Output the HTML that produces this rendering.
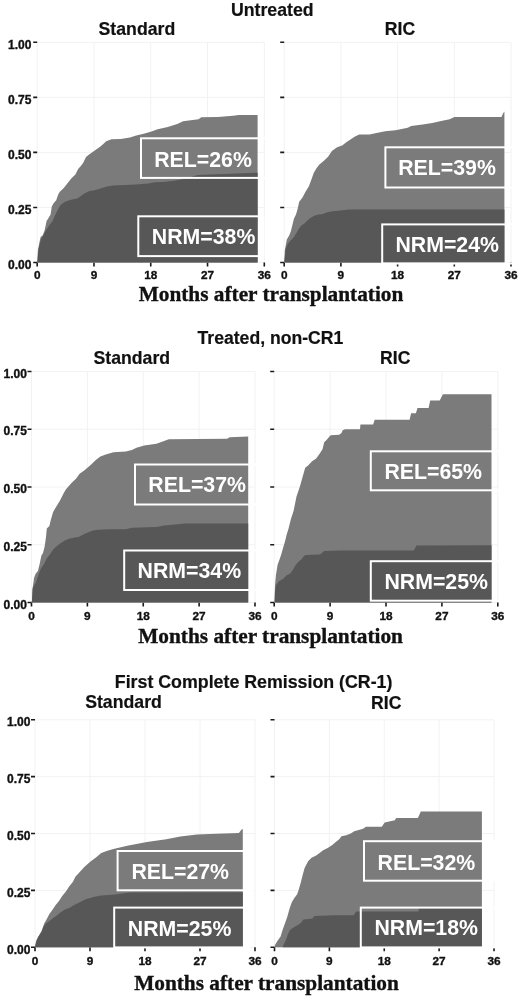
<!DOCTYPE html><html><head><meta charset="utf-8"><style>html,body{margin:0;padding:0;background:#fff;}svg{display:block;}svg{will-change:transform;}text{font-family:"Liberation Sans",sans-serif;font-weight:bold;}.s{font-family:"Liberation Serif",serif;}.k{stroke:#111;stroke-width:0.35px;}.t{stroke:#111;stroke-width:0.2px;}</style></head><body>
<svg width="520" height="1001" viewBox="0 0 520 1001">
<rect width="520" height="1001" fill="#fff"/>
<path d="M37.2 42.3V262.5M93.98 42.3V262.5M150.75 42.3V262.5M207.53 42.3V262.5M264.3 42.3V262.5M37.2 262.5H264.3M37.2 207.45H264.3M37.2 152.4H264.3M37.2 97.35H264.3M37.2 42.3H264.3" stroke="#f2f2f2" stroke-width="1" fill="none"/>
<path d="M37.2 262.5v4M93.98 262.5v4M150.75 262.5v4M207.53 262.5v4M264.3 262.5v4M37.2 262.5h-4M37.2 207.45h-4M37.2 152.4h-4M37.2 97.35h-4M37.2 42.3h-4" stroke="#1a1a1a" stroke-width="1.6" fill="none"/>
<polygon points="37.3,262.5 37.3,262.5 37.4,261 37.8,251.4 39.4,242.6 40.6,237 42.6,235.4 44.6,230.6 46.6,221 48.2,218.6 50.6,214.6 51.8,206.6 53.4,203.4 56.2,200.2 58.2,194.6 59.8,191.8 63.8,187.9 67.7,183.1 71.5,178.3 75.4,174.4 78.3,168.7 80.2,166.7 83.1,162.9 86,157.1 88.8,154.7 93.7,151.3 100.4,146.5 103.3,144.1 106.2,141.25 111.5,139.2 120.8,138.9 130,137.4 136.2,135.4 143.8,133.8 151.5,131.5 157.7,129.2 167.7,126.9 177.3,124 183.1,121.2 198.5,119.2 201.3,117.3 217.7,116.9 233.1,115.8 238.8,115 257.6,115 257.6,115 257.6,262.5" fill="#7b7b7b"/>
<polygon points="37.3,262.5 37.3,262.5 37.4,261 38.6,248.2 41,239.4 43.8,234.6 46.2,229.8 49,225.8 52.6,221 54.2,217 56.2,213 58.2,209 60.6,205 63.8,202.6 67,201 71,199.8 77.3,198.5 84,193.7 88.8,191.25 94.6,190.3 100.4,188.4 107.1,186.4 113.1,185.4 136.2,184.6 148.5,183.5 154.6,182.3 163,182 174.6,180.8 186,178.5 197.7,175 257.6,172.7 257.6,172.7 257.6,262.5" fill="#575757"/>
<rect x="141" y="138.3" width="125" height="39.6" fill="none" stroke="#fff" stroke-width="2"/>
<text x="154.2" y="166.6" font-size="21.3" fill="#fff">REL=26%</text>
<rect x="138.3" y="216.3" width="125" height="39.8" fill="none" stroke="#fff" stroke-width="2"/>
<text x="151.8" y="244" font-size="21.3" fill="#fff">NRM=38%</text>
<text x="37.2" y="279.3" font-size="11.8" text-anchor="middle" fill="#111" class="k">0</text>
<text x="93.98" y="279.3" font-size="11.8" text-anchor="middle" fill="#111" class="k">9</text>
<text x="150.75" y="279.3" font-size="11.8" text-anchor="middle" fill="#111" class="k">18</text>
<text x="207.53" y="279.3" font-size="11.8" text-anchor="middle" fill="#111" class="k">27</text>
<text x="264.3" y="279.3" font-size="11.8" text-anchor="middle" fill="#111" class="k">36</text>
<text x="31.4" y="268.7" font-size="12" text-anchor="end" fill="#111" class="k">0.00</text>
<text x="31.4" y="213.65" font-size="12" text-anchor="end" fill="#111" class="k">0.25</text>
<text x="31.4" y="158.6" font-size="12" text-anchor="end" fill="#111" class="k">0.50</text>
<text x="31.4" y="103.55" font-size="12" text-anchor="end" fill="#111" class="k">0.75</text>
<text x="31.4" y="48.5" font-size="12" text-anchor="end" fill="#111" class="k">1.00</text>
<path d="M284.2 42.3V262.5M340.9 42.3V262.5M397.6 42.3V262.5M454.3 42.3V262.5M511 42.3V262.5M284.2 262.5H511M284.2 207.45H511M284.2 152.4H511M284.2 97.35H511M284.2 42.3H511" stroke="#f2f2f2" stroke-width="1" fill="none"/>
<path d="M284.2 262.5v4M340.9 262.5v4M397.6 262.5v4M454.3 262.5v4M511 262.5v4M284.2 262.5h-4M284.2 207.45h-4M284.2 152.4h-4M284.2 97.35h-4M284.2 42.3h-4" stroke="#1a1a1a" stroke-width="1.6" fill="none"/>
<polygon points="284.3,262.5 284.3,262.5 284.4,260.2 284.8,250.6 286.8,239.4 289.2,235.4 290.8,231.4 292.4,225 294,218.6 296,214.6 297.6,209 299.2,201.8 300.8,199.8 302.8,197 305.2,192.2 308.8,186.5 311.7,178.8 313.7,173.1 316.5,168.3 319.4,164.4 324.2,160.6 328.1,156.7 331.9,151 336.7,147.6 342.5,145.2 346.3,142.3 351.2,138.9 355,136.5 359.2,134.6 369.6,134.6 376.5,132.9 385.2,131.2 395.6,130.3 407.7,127.7 411.2,126 422.7,124.6 432.3,123.1 440,121.2 449.6,119.2 454.4,116.9 501.5,116.9 503,113.5 504.4,111.5 504.4,111.5 504.4,262.5" fill="#7b7b7b"/>
<polygon points="284.3,262.5 284.3,262.5 284.4,260.2 285.6,249 287.6,244.2 290.8,240.2 294,237 296.4,233 299.2,228.2 301.2,225.8 304.4,223.4 307.6,220.2 310.8,217.8 314.8,215.4 318.8,214.6 322,214.2 327.5,212.25 331,211.4 349.2,209.6 504.4,209.6 504.4,209.6 504.4,262.5" fill="#575757"/>
<rect x="385.4" y="147.3" width="130" height="40.2" fill="none" stroke="#fff" stroke-width="2"/>
<text x="398.2" y="175.4" font-size="21.3" fill="#fff">REL=39%</text>
<rect x="382.2" y="224.4" width="135" height="39.1" fill="none" stroke="#fff" stroke-width="2"/>
<text x="395.4" y="251.9" font-size="21.3" fill="#fff">NRM=24%</text>
<text x="284.2" y="279.3" font-size="11.8" text-anchor="middle" fill="#111" class="k">0</text>
<text x="340.9" y="279.3" font-size="11.8" text-anchor="middle" fill="#111" class="k">9</text>
<text x="397.6" y="279.3" font-size="11.8" text-anchor="middle" fill="#111" class="k">18</text>
<text x="454.3" y="279.3" font-size="11.8" text-anchor="middle" fill="#111" class="k">27</text>
<text x="511" y="279.3" font-size="11.8" text-anchor="middle" fill="#111" class="k">36</text>
<path d="M31.5 371.5V602.5M87.38 371.5V602.5M143.25 371.5V602.5M199.12 371.5V602.5M255 371.5V602.5M31.5 602.5H255M31.5 544.75H255M31.5 487H255M31.5 429.25H255M31.5 371.5H255" stroke="#f2f2f2" stroke-width="1" fill="none"/>
<path d="M31.5 602.5v4M87.38 602.5v4M143.25 602.5v4M199.12 602.5v4M255 602.5v4M31.5 602.5h-4M31.5 544.75h-4M31.5 487h-4M31.5 429.25h-4M31.5 371.5h-4" stroke="#1a1a1a" stroke-width="1.6" fill="none"/>
<polygon points="31.6,602.5 31.6,602.5 32,600.7 32.4,589.6 34.1,577.7 35.8,573.5 37.9,571 39.6,564.2 41.3,555.7 43,553.1 44.7,546.3 46,537 46.8,528.5 49.4,525.9 50.8,520 53.1,511.9 56.5,506.2 60,500.4 63.5,493.5 65.8,489.4 71.5,483.1 76.2,478.5 79.6,473.8 84.2,470.4 91.2,464.6 95.8,460 100.4,456.5 105.8,454.6 113.5,452.3 125.8,451.5 131.9,450 136.5,447.7 144.2,445.4 156.5,443.8 162.7,441.5 168.8,439.2 227.1,438.7 229.7,437.3 248.2,436.4 248.2,436.4 248.2,602.5" fill="#7b7b7b"/>
<polygon points="31.6,602.5 31.6,602.5 32,600.7 32.8,587.9 35.8,582.8 38.3,575.2 40.9,568.4 43.9,564.2 46.8,558.2 50.2,554 53.6,548.9 58.7,544.6 64.7,540.4 69,538.7 71.4,538.3 79.1,536.7 85.3,533.6 93,530.5 98,529.7 110.4,529.2 125.8,529.2 131.9,527.7 156.5,526.9 164.2,525.4 175,524.6 185,523.5 248.2,523.5 248.2,523.5 248.2,602.5" fill="#575757"/>
<rect x="135" y="464.5" width="125" height="40" fill="none" stroke="#fff" stroke-width="2"/>
<text x="148.3" y="492.3" font-size="21.3" fill="#fff">REL=37%</text>
<rect x="124.2" y="550.5" width="135" height="39.5" fill="none" stroke="#fff" stroke-width="2"/>
<text x="137.5" y="578.2" font-size="21.3" fill="#fff">NRM=34%</text>
<text x="31.5" y="620.4" font-size="11.8" text-anchor="middle" fill="#111" class="k">0</text>
<text x="87.38" y="620.4" font-size="11.8" text-anchor="middle" fill="#111" class="k">9</text>
<text x="143.25" y="620.4" font-size="11.8" text-anchor="middle" fill="#111" class="k">18</text>
<text x="199.12" y="620.4" font-size="11.8" text-anchor="middle" fill="#111" class="k">27</text>
<text x="255" y="620.4" font-size="11.8" text-anchor="middle" fill="#111" class="k">36</text>
<text x="26.9" y="608.7" font-size="12" text-anchor="end" fill="#111" class="k">0.00</text>
<text x="26.9" y="550.95" font-size="12" text-anchor="end" fill="#111" class="k">0.25</text>
<text x="26.9" y="493.2" font-size="12" text-anchor="end" fill="#111" class="k">0.50</text>
<text x="26.9" y="435.45" font-size="12" text-anchor="end" fill="#111" class="k">0.75</text>
<text x="26.9" y="377.7" font-size="12" text-anchor="end" fill="#111" class="k">1.00</text>
<path d="M274.2 371.5V602.5M330.1 371.5V602.5M386 371.5V602.5M441.9 371.5V602.5M497.8 371.5V602.5M274.2 602.5H497.8M274.2 544.75H497.8M274.2 487H497.8M274.2 429.25H497.8M274.2 371.5H497.8" stroke="#f2f2f2" stroke-width="1" fill="none"/>
<path d="M274.2 602.5v4M330.1 602.5v4M386 602.5v4M441.9 602.5v4M497.8 602.5v4M274.2 602.5h-4M274.2 544.75h-4M274.2 487h-4M274.2 429.25h-4M274.2 371.5h-4" stroke="#1a1a1a" stroke-width="1.6" fill="none"/>
<polygon points="274.4,602.5 274.4,602.5 274.6,601.2 275,585.6 275.9,575.2 277.6,564.8 279.8,558.8 281.5,553.6 283.2,547.5 285,541.5 286.7,534.5 288.5,528.8 290.8,519.6 293.7,510.4 296.5,496.5 300,486.2 302.3,478.1 305.2,467.7 308.1,465.4 312.1,461.3 316.2,458.5 319.6,453.8 322.5,449.2 324.2,442.3 326.5,440 330.6,435.2 339.2,434.8 341.5,433.1 342.7,430.2 345,429.2 360,429.2 360.4,424.4 373.1,424.4 374.7,419.7 409.6,419.7 411.1,413.3 415.9,413.3 417.5,407.9 428.6,407.9 430.2,400.6 439.7,400.6 442.9,394.3 491.5,394.3 491.5,394.3 491.5,602.5" fill="#7b7b7b"/>
<polygon points="274.4,602.5 274.4,602.5 274.6,601.2 275,590.8 276.3,584.7 278.9,581.3 283.2,578.7 286.7,575.2 290.2,573.5 292.8,570 295.8,564.8 298.8,561.4 301.4,559.6 303.2,557 305.3,554.9 320.1,554.6 324.2,551.1 340,550.5 413.8,550.4 416.5,545.5 491.5,545.3 491.5,545.3 491.5,602.5" fill="#575757"/>
<rect x="370.8" y="451.3" width="130" height="39" fill="none" stroke="#fff" stroke-width="2"/>
<text x="384.4" y="479" font-size="21.3" fill="#fff">REL=65%</text>
<rect x="370.8" y="561.2" width="130" height="39.5" fill="none" stroke="#fff" stroke-width="2"/>
<text x="384.4" y="588.9" font-size="21.3" fill="#fff">NRM=25%</text>
<text x="274.2" y="620.4" font-size="11.8" text-anchor="middle" fill="#111" class="k">0</text>
<text x="330.1" y="620.4" font-size="11.8" text-anchor="middle" fill="#111" class="k">9</text>
<text x="386" y="620.4" font-size="11.8" text-anchor="middle" fill="#111" class="k">18</text>
<text x="441.9" y="620.4" font-size="11.8" text-anchor="middle" fill="#111" class="k">27</text>
<text x="497.8" y="620.4" font-size="11.8" text-anchor="middle" fill="#111" class="k">36</text>
<path d="M35 719.8V947.3M90 719.8V947.3M145 719.8V947.3M200 719.8V947.3M255 719.8V947.3M35 947.3H255M35 890.42H255M35 833.55H255M35 776.67H255M35 719.8H255" stroke="#f2f2f2" stroke-width="1" fill="none"/>
<path d="M35 947.3v4M90 947.3v4M145 947.3v4M200 947.3v4M255 947.3v4M35 947.3h-4M35 890.42h-4M35 833.55h-4M35 776.67h-4M35 719.8h-4" stroke="#1a1a1a" stroke-width="1.6" fill="none"/>
<polygon points="35.1,947.3 35.1,947.3 35.2,946 36,941.6 37.8,937.3 39.5,934.7 41.7,930.4 44.2,923.5 46.8,919.1 49.4,913.9 52,910.5 55.5,905.3 59,901 62.4,895.8 65.9,891.4 69.3,886.2 72.8,881.9 75.4,876.7 78.2,873.8 84.3,866.9 90.5,861.5 96.6,856.9 101.2,853.1 107.4,850.8 113.4,849 127.3,845.7 146.8,842.1 166.3,839.3 180.3,836.5 197,834.5 216.5,833.7 238.9,832.9 241.6,829.5 242.8,829 242.8,829 242.8,947.3" fill="#7b7b7b"/>
<polygon points="35.1,947.3 35.1,947.3 35.2,946 36.5,940.8 39.1,935.6 41.7,932.1 43.4,926.9 46,923.5 49.4,920.9 52.9,918.3 56.4,915.7 60.7,912.2 65,909.6 69.3,907.9 73.7,905.3 78.2,903.1 85.8,899.2 93.5,896.9 101.2,895.4 115,894.5 130,892.5 242.8,892.3 242.8,892.3 242.8,947.3" fill="#575757"/>
<rect x="117.6" y="851" width="135" height="39.3" fill="none" stroke="#fff" stroke-width="2"/>
<text x="131.4" y="878.8" font-size="21.3" fill="#fff">REL=27%</text>
<rect x="114.2" y="907.6" width="135" height="39.8" fill="none" stroke="#fff" stroke-width="2"/>
<text x="127.8" y="935.6" font-size="21.3" fill="#fff">NRM=25%</text>
<text x="35" y="964.6" font-size="11.8" text-anchor="middle" fill="#111" class="k">0</text>
<text x="90" y="964.6" font-size="11.8" text-anchor="middle" fill="#111" class="k">9</text>
<text x="145" y="964.6" font-size="11.8" text-anchor="middle" fill="#111" class="k">18</text>
<text x="200" y="964.6" font-size="11.8" text-anchor="middle" fill="#111" class="k">27</text>
<text x="255" y="964.6" font-size="11.8" text-anchor="middle" fill="#111" class="k">36</text>
<text x="30.4" y="953.5" font-size="12" text-anchor="end" fill="#111" class="k">0.00</text>
<text x="30.4" y="896.62" font-size="12" text-anchor="end" fill="#111" class="k">0.25</text>
<text x="30.4" y="839.75" font-size="12" text-anchor="end" fill="#111" class="k">0.50</text>
<text x="30.4" y="782.88" font-size="12" text-anchor="end" fill="#111" class="k">0.75</text>
<text x="30.4" y="726" font-size="12" text-anchor="end" fill="#111" class="k">1.00</text>
<path d="M274.5 719.8V947.3M329.38 719.8V947.3M384.25 719.8V947.3M439.12 719.8V947.3M494 719.8V947.3M274.5 947.3H494M274.5 890.42H494M274.5 833.55H494M274.5 776.67H494M274.5 719.8H494" stroke="#f2f2f2" stroke-width="1" fill="none"/>
<path d="M274.5 947.3v4M329.38 947.3v4M384.25 947.3v4M439.12 947.3v4M494 947.3v4M274.5 947.3h-4M274.5 890.42h-4M274.5 833.55h-4M274.5 776.67h-4M274.5 719.8h-4" stroke="#1a1a1a" stroke-width="1.6" fill="none"/>
<polygon points="274.6,947.3 274.6,947.3 274.7,945.4 277.4,940.9 280.6,936.4 282.8,929.2 285.1,923 287.3,916.7 289.6,908.6 291.8,902.3 294.5,897.8 297.2,894.2 299,888.8 300.8,882.5 302.6,875.3 304.6,868.1 308.1,861.2 311.5,857.7 316.2,855.4 319.6,853.1 323.1,850.2 327.7,847.9 332.3,845 335.8,842.1 339.2,839.2 341.5,836.3 346.2,835.2 350.8,833.5 354.2,831.2 363.1,828.8 366,826.8 381.8,826.8 384.7,822.5 394.8,820.2 396.2,817.9 417.9,817.9 420.8,811.5 481.9,811.5 481.9,811.5 481.9,947.3" fill="#7b7b7b"/>
<polygon points="282.8,947.3 282.8,947.3 282.8,946.3 285.5,940.9 287.8,934.6 290,930.1 293.6,927.4 297.2,925.6 300.8,923 303.5,919.4 312.5,918.5 314.3,916 335,915.2 353.8,915.2 356,911.5 418.5,911.5 419,907.8 481.9,907.8 481.9,907.8 481.9,947.3" fill="#575757"/>
<rect x="364" y="841.2" width="130" height="39.5" fill="none" stroke="#fff" stroke-width="2"/>
<text x="377.6" y="869.5" font-size="21.3" fill="#fff">REL=32%</text>
<rect x="360.8" y="907.6" width="135" height="39.8" fill="none" stroke="#fff" stroke-width="2"/>
<text x="374.4" y="935.2" font-size="21.3" fill="#fff">NRM=18%</text>
<text x="274.5" y="964.6" font-size="11.8" text-anchor="middle" fill="#111" class="k">0</text>
<text x="329.38" y="964.6" font-size="11.8" text-anchor="middle" fill="#111" class="k">9</text>
<text x="384.25" y="964.6" font-size="11.8" text-anchor="middle" fill="#111" class="k">18</text>
<text x="439.12" y="964.6" font-size="11.8" text-anchor="middle" fill="#111" class="k">27</text>
<text x="494" y="964.6" font-size="11.8" text-anchor="middle" fill="#111" class="k">36</text>
<text class="t" x="272.3" y="15.6" font-size="17.7" text-anchor="middle" fill="#111">Untreated</text>
<text class="t" x="136.9" y="35.3" font-size="17.7" text-anchor="middle" fill="#111">Standard</text>
<text class="t" x="400" y="34.8" font-size="17.6" text-anchor="middle" fill="#111">RIC</text>
<text class="t" x="270.4" y="344.1" font-size="17.6" text-anchor="middle" fill="#111">Treated, non-CR1</text>
<text class="t" x="131.8" y="363.8" font-size="17.7" text-anchor="middle" fill="#111">Standard</text>
<text class="t" x="395.2" y="363.6" font-size="17.6" text-anchor="middle" fill="#111">RIC</text>
<text class="t" x="253.6" y="687.9" font-size="17.8" text-anchor="middle" fill="#111">First Complete Remission (CR-1)</text>
<text class="t" x="123.5" y="708.4" font-size="17.7" text-anchor="middle" fill="#111">Standard</text>
<text class="t" x="386.2" y="708.5" font-size="17.6" text-anchor="middle" fill="#111">RIC</text>
<text class="s k" x="271" y="300.5" font-size="21.3" text-anchor="middle" fill="#111">Months after transplantation</text>
<text class="s k" x="270.6" y="643.2" font-size="21.3" text-anchor="middle" fill="#111">Months after transplantation</text>
<text class="s k" x="266.5" y="989.8" font-size="21.3" text-anchor="middle" fill="#111">Months after transplantation</text>
</svg></body></html>
